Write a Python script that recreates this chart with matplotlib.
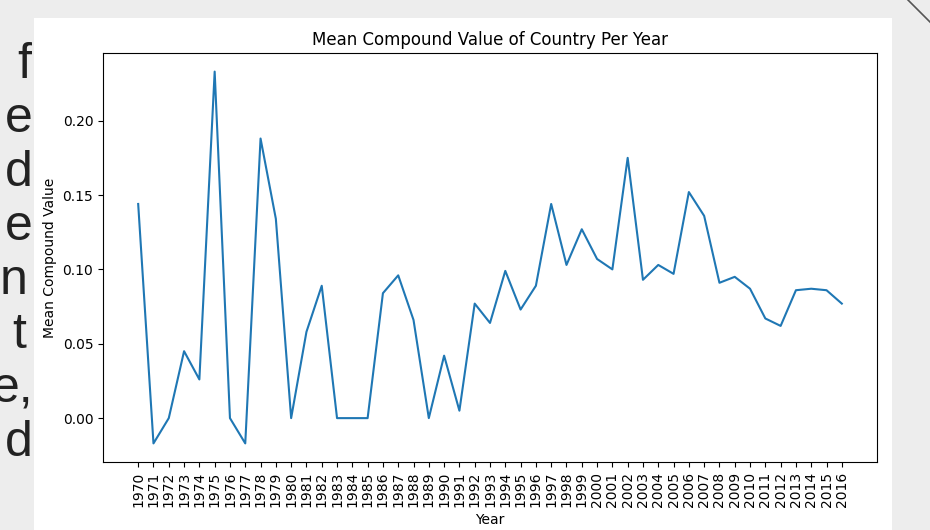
import matplotlib.pyplot as plt
from matplotlib.patches import Rectangle
from matplotlib.lines import Line2D

# Data
years = list(range(1970, 2017))
mean_compound = [
    0.144, -0.017, 0.000, 0.045, 0.026, 0.233, 0.000, -0.017, 0.188, 0.134,
    0.000, 0.058, 0.089, 0.000, 0.000, 0.000, 0.084, 0.096, 0.066, 0.000,
    0.042, 0.005, 0.077, 0.064, 0.099, 0.073, 0.089, 0.144, 0.103, 0.127,
    0.107, 0.100, 0.175, 0.093, 0.103, 0.097, 0.152, 0.136, 0.091, 0.095,
    0.087, 0.067, 0.062, 0.086, 0.087, 0.086, 0.077,
]
slide_letters = ["f", "e", "d", "e", "n", "t", "e,", "d"]
letter_right = [31, 33, 33, 33, 28, 26, 33, 33]

fig = plt.figure(figsize=(9.3, 5.3), dpi=100)
fig.patch.set_facecolor("#ededed")

# cut-off slide text on the left, behind the pasted chart image
for i, (s, xr) in enumerate(zip(slide_letters, letter_right)):
    fig.text(xr / 930, 1 - (78 + 54 * i) / 530, s, ha="right", va="baseline",
             fontsize=36, family="Liberation Sans", color="#222222")

# white chart image
fig.patches.append(Rectangle((34 / 930, 0), (892 - 34) / 930, (530 - 18) / 530,
                             transform=fig.transFigure, facecolor="white",
                             edgecolor="none", zorder=1))
# slide decoration in the top right corner
fig.lines.append(Line2D([908 / 930, 1.0], [1.0, 1 - 22 / 530],
                        transform=fig.transFigure, color="#555555", lw=1.2))

ax = fig.add_axes([103 / 930, 1 - 462 / 530, (877 - 103) / 930, (462 - 53) / 530])
ax.set_zorder(2)
ax.plot([str(y) for y in years], mean_compound, color="#1f77b4", lw=1.5)
ax.set_title("Mean Compound Value of Country Per Year", fontsize=12)
ax.set_xlabel("Year", fontsize=10)
ax.set_ylabel("Mean Compound Value", fontsize=10)
ax.set_yticks([0.0, 0.05, 0.10, 0.15, 0.20])
ax.tick_params(axis="x", labelrotation=90)
ax.tick_params(labelsize=10)

fig.savefig("out.png", dpi=100, facecolor=fig.get_facecolor())
